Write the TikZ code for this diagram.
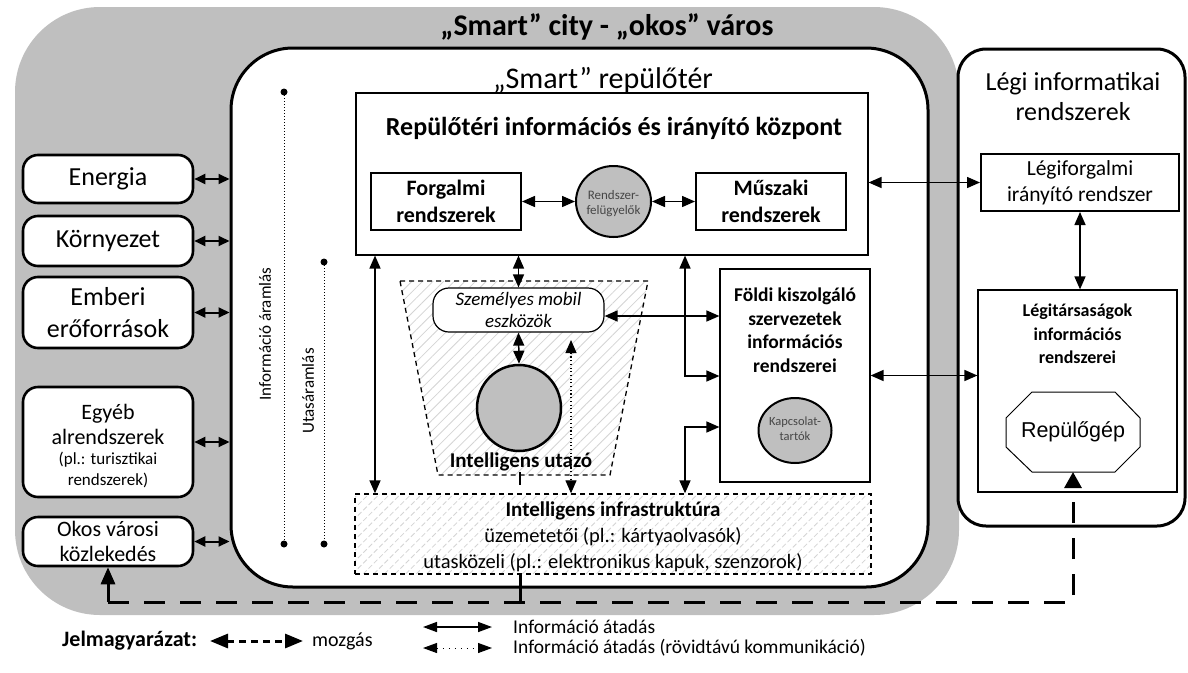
\documentclass[tikz,border=0pt]{standalone}
\usepackage{fontspec}
\setmainfont{Carlito}
\newfontfamily\arialf{Liberation Sans}
\usetikzlibrary{arrows.meta,patterns.meta,shapes.geometric,calc}
\definecolor{cgray}{RGB}{191,191,191}
\definecolor{hatchc}{RGB}{212,212,212}
\definecolor{txtgray}{RGB}{70,70,70}
\newcommand\fsz[2]{\fontsize{#1}{#2}\selectfont}
\begin{document}
\begin{tikzpicture}[x=1pt,y=-1pt,
  every node/.style={inner sep=0pt, align=center},
  lbox/.style={draw, line width=2.6pt, rounded corners=15pt, fill=white, minimum width=170pt},
  bbox/.style={draw, line width=2pt, fill=white},
  tbox/.style={draw, line width=1.2pt, fill=white},
  gcirc/.style={draw, ellipse, fill=cgray},
  tipA/.tip={Triangle[length=13pt,width=11pt]},
  info/.style={line width=1.5pt, tipA-tipA},
  sinfo/.style={line width=1.1pt, dash pattern=on 1.1pt off 2.6pt, tipA-tipA},
  side/.style={line width=2pt, {Triangle[length=11pt,width=10pt]}-{Triangle[length=11pt,width=10pt]}},
  mv/.style={line width=3pt, dash pattern=on 21pt off 15pt},
  hatch/.style={pattern={Lines[angle=45,distance=7.5pt,line width=0.8pt]}, pattern color=hatchc},
  dbox/.style={draw, line width=1.3pt, dash pattern=on 5pt off 4pt}
]
\useasboundingbox (0,0) rectangle (1188,672);
% city background
\fill[cgray, rounded corners=85pt] (15,7) rectangle (959,615);
\node[font=\bfseries\fsz{30}{34}] (title) at (607,27) {„Smart” city - „okos” város};
% airport
\node[draw, line width=3pt, fill=white, rounded corners=62pt, minimum width=697pt, minimum height=539pt] (airport) at (579.5,317.5) {};
\node[font=\fsz{30}{34}] (aptitle) at (603,80) {„Smart” repülőtér};
% right box
\node[draw, line width=3pt, fill=white, rounded corners=28pt, minimum width=227pt, minimum height=477pt] (legi) at (1071.5,287.5) {};
\node[font=\fsz{26}{30}] (legititle) at (1073,97) {Légi informatikai\\rendszerek};
% info center
\node[draw, line width=1.1pt, fill=white, minimum width=512pt, minimum height=162pt] (irk) at (612,174) {};
\node[font=\bfseries\fsz{26}{30}] (irktitle) at (614,128) {Repülőtéri információs és irányító központ};
\node[bbox, minimum width=150pt, minimum height=57pt, font=\bfseries\fsz{22}{27}] (forg) at (446,201.5) {Forgalmi\\rendszerek};
\node[bbox, minimum width=150pt, minimum height=57pt, font=\bfseries\fsz{22}{27}] (musz) at (771,201.5) {Műszaki\\rendszerek};
\node[gcirc, line width=2pt, minimum width=75pt, minimum height=71pt] (rf) at (613.5,201.5) {};
\node[font=\fsz{13}{15}, text=txtgray] (rftext) at (613.5,203.5) {Rendszer-\\felügyelők};
% Legiforgalmi
\node[bbox, minimum width=198pt, minimum height=57pt, font=\fsz{21.5}{26}] (legiforg) at (1080,182.5) {Légiforgalmi\\irányító rendszer};
\node[tbox, minimum width=199pt, minimum height=202pt] (legitars) at (1077.5,391) {};
\node[font=\bfseries\fsz{18}{23.5}] (legitarstext) at (1077.5,334) {Légitársaságok\\információs\\rendszerei};
% octagon
\coordinate (o1) at (1032,392); \coordinate (o2) at (1115,392);
\coordinate (o3) at (1140,418); \coordinate (o4) at (1140,447);
\coordinate (o5) at (1115,472); \coordinate (o6) at (1032,472);
\coordinate (o7) at (1006,447); \coordinate (o8) at (1006,418);
\draw[line width=1pt, fill=white] (o1) -- (o2) -- (o3) -- (o4) -- (o5) -- (o6) -- (o7) -- (o8) -- cycle;
\node[font=\arialf\fsz{21.5}{24}] (plane) at (1073,432) {Repülőgép};
\coordinate (planeb) at (1073,472);
% Foldi
\node[tbox, minimum width=150pt, minimum height=213pt] (foldi) at (795,375.5) {};
\node[font=\bfseries\fsz{19.5}{23.5}] (folditext) at (795,330) {Földi kiszolgáló\\szervezetek\\információs\\rendszerei};
\node[gcirc, line width=2pt, minimum width=73pt, minimum height=65pt] (kapcs) at (795,430.5) {};
\node[font=\fsz{12.5}{15}, text=txtgray] (kapcstext) at (795,429) {Kapcsolat-\\tartók};
% trapezoid intelligent traveller
\coordinate (t1) at (400,281); \coordinate (t2) at (648,281);
\coordinate (t3) at (610,475); \coordinate (t4) at (438,475);
\path[hatch] (t1) -- (t2) -- (t3) -- (t4) -- cycle;
\draw[dbox] (t1) -- (t2) -- (t3) -- (t4) -- cycle;
\node[tbox, rounded corners=16pt, minimum width=171pt, minimum height=44pt, font=\itshape\fsz{19}{22}] (mob) at (518.5,310) {Személyes mobil\\eszközök};
\node[gcirc, line width=2.5pt, minimum width=84pt, minimum height=86pt] (utazo) at (519,408) {};
\node[font=\bfseries\fsz{21}{24}] (utazotext) at (521,462) {Intelligens utazó};
% infrastructure
\node[dbox, hatch, minimum width=516pt, minimum height=80pt] (infra) at (613,534) {};
\node[font=\fsz{20.5}{26}] (infratext) at (613,537) {{\fsz{21}{26}\bfseries Intelligens infrastruktúra}\\üzemetetői (pl.: kártyaolvasók)\\utasközeli (pl.: elektronikus kapuk, szenzorok)};
% left boxes
\node[lbox, minimum height=48pt, font=\fsz{26}{30}] (energia) at (108,179) {Energia};
\node[lbox, minimum height=50pt, font=\fsz{26}{30}] (kornyezet) at (108,241) {Környezet};
\node[lbox, minimum height=71pt, font=\fsz{26}{32}] (emberi) at (108,312.5) {Emberi\\erőforrások};
\node[lbox, minimum height=110pt] (egyeb) at (108,442) {};
\node[font=\fsz{22}{25}] (egyebtext) at (108,424.5) {Egyéb\\alrendszerek};
\node[font=\fsz{17}{20.5}] (egyebsub) at (108,470) {(pl.: turisztikai\\rendszerek)};
\node[lbox, minimum height=49pt, font=\fsz{22}{25}] (okos) at (108,541.5) {Okos városi\\közlekedés};
% side arrows
\foreach \n in {energia,kornyezet,emberi,egyeb,okos}
  \draw[side] (\n.east) -- (\n.east -| airport.west);
% vertical flow lines
\coordinate (i1) at (284,92); \coordinate (i2) at (284,544);
\coordinate (u1) at (324,262); \coordinate (u2) at (324,544);
\draw[line width=1pt, dash pattern=on 1pt off 2pt] (i1) -- (i2);
\draw[line width=1pt, dash pattern=on 1pt off 2pt] (u1) -- (u2);
\foreach \p in {i1,i2,u1,u2} \fill (\p) circle (3.5pt);
\node[rotate=90, font=\fsz{17}{20}] (infolabel) at (265,334) {Információ áramlás};
\node[rotate=90, font=\fsz{17}{20}] (utaslabel) at (308,391) {Utasáramlás};
% info arrows
\draw[info] (forg.east) -- (rf.west);
\draw[info] (rf.east) -- (musz.west);
\draw[info] (legiforg.west -| irk.east) -- (legiforg.west);
\draw[info] (legiforg.south) -- (legiforg.south |- legitars.north);
\draw[info] (foldi.east) -- (foldi.east -| legitars.west);
\coordinate (la) at (375,300);
\draw[info] (la |- irk.south) -- (la |- infra.north);
\draw[info] (mob.north |- irk.south) -- (mob.north);
\draw[info] (mob.south) -- (utazo.north);
\draw[info] ([yshift=-6pt]mob.east) -- ([yshift=-6pt]mob.east -| foldi.west);
\coordinate (ra) at (685,376);
\draw[info] (ra |- irk.south) -- (ra) -- (ra -| foldi.west);
\coordinate (rb) at (685,427);
\draw[info] (rb -| foldi.west) -- (rb) -- (rb |- infra.north);
\coordinate (dt) at (571,340);
\draw[sinfo] (dt) -- (dt |- infra.north);
% movement
\coordinate (mvy) at (0,602);
\coordinate (mvL) at (okos.south |- mvy);
\coordinate (tk) at (520,472);
\draw[line width=1.5pt] (tk) -- ++(0,13);
\draw[line width=3pt] (infra.south -| tk) -- (tk |- mvy);
\draw[mv, -{Triangle[length=16pt,width=17pt]}] (mvL) -- (mvL -| planeb) -- (planeb);
\draw[line width=3pt, -{Triangle[length=17pt,width=14pt]}] (mvL) -- (okos.south);
% legend
\node[font=\bfseries\fsz{22}{24}, anchor=west] (leg) at (62,641) {Jelmagyarázat:};
\coordinate (lm1) at (210,641); \coordinate (lm2) at (303,641);
\draw[line width=3pt, dash pattern=on 7pt off 5pt, {Triangle[length=18pt,width=14pt]}-{Triangle[length=18pt,width=14pt]}] (lm1) -- (lm2);
\node[font=\fsz{20}{24}, anchor=west] (legmv) at (312,641) {mozgás};
\coordinate (li1) at (423,627); \coordinate (li2) at (492,627);
\draw[line width=1.5pt, {Triangle[length=14pt,width=10pt]}-{Triangle[length=14pt,width=10pt]}] (li1) -- (li2);
\node[font=\fsz{19.5}{24}, anchor=west] (leginfo) at (513,627) {Információ átadás};
\coordinate (ls1) at (423,648); \coordinate (ls2) at (492,648);
\draw[line width=1pt, dash pattern=on 1pt off 5pt, {Triangle[length=14pt,width=10pt]}-{Triangle[length=14pt,width=10pt]}] (ls1) -- (ls2);
\node[font=\fsz{19.5}{24}, anchor=west] (legsinfo) at (513,648) {Információ átadás (rövidtávú kommunikáció)};
\end{tikzpicture}
\end{document}
